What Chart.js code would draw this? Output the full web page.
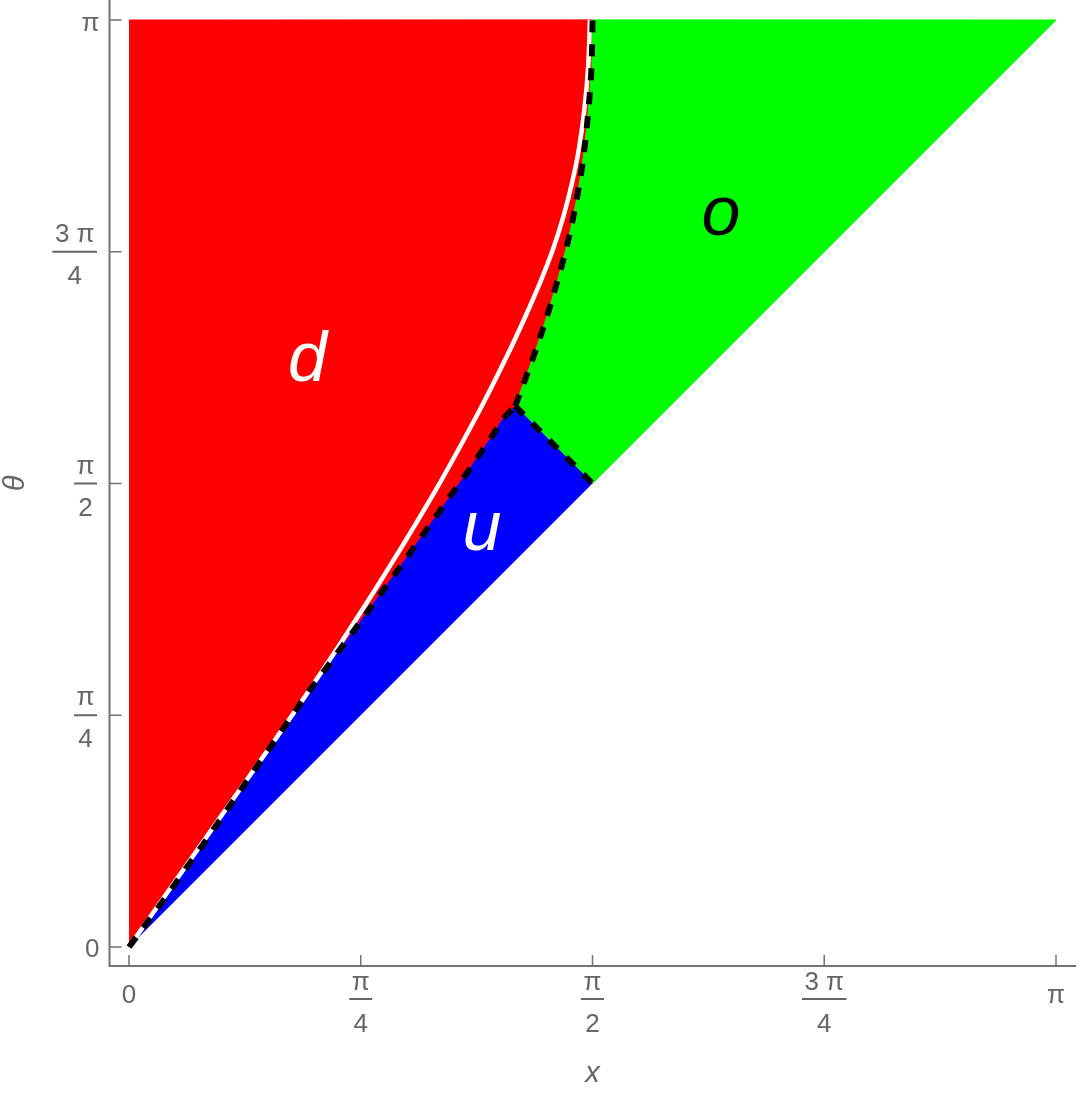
<!DOCTYPE html>
<html><head><meta charset="utf-8">
<script src="https://cdn.jsdelivr.net/npm/chart.js@4.4.1/dist/chart.umd.min.js"></script>
<style>html,body{margin:0;padding:0;background:#fff;}canvas{display:block;}</style>
</head><body>
<canvas id="c" width="1080" height="1093"></canvas>
<script>
const PI = Math.PI;

// ---- axis ticks ----
const tickValues = [0, PI / 4, PI / 2, 3 * PI / 4, PI];
const tickNumerators = ['0', 'π', 'π', '3 π', 'π'];
const tickDenominators = ['', '4', '2', '4', ''];
const axisTitles = ['x', 'θ'];

// ---- boundary d | u (lower dashed curve), origin -> corner ----
const lowerX = [0, 0.111, 0.196, 0.241, 0.613, 0.760, 0.907, 1.048, 1.144, 1.229, 1.269, 1.309];
const lowerY = [0, 0.150, 0.270, 0.333, 0.871, 1.069, 1.272, 1.470, 1.605, 1.729, 1.792, 1.833];

// ---- boundary d | o (upper dashed curve), corner -> top ----
const upperX = [1.309, 1.344, 1.375, 1.398, 1.421, 1.446, 1.467, 1.487, 1.505, 1.521, 1.533, 1.543, 1.553, 1.560, 1.566, 1.569, 1.571];
const upperY = [1.833, 1.928, 2.013, 2.081, 2.152, 2.237, 2.311, 2.389, 2.471, 2.555, 2.627, 2.701, 2.793, 2.871, 2.955, 3.033, 3.142];

// ---- corners of the regions ----
const diagMid = [PI / 2, PI / 2];
const topRight = [PI, PI];
const topLeft = [0, PI];

// ---- white curve inside d ----
const whiteX = [0, 0.299, 0.596, 0.812, 1.020, 1.183, 1.280, 1.343, 1.392, 1.436, 1.472, 1.501, 1.524, 1.543, 1.556, 1.562];
const whiteY = [0, 0.425, 0.848, 1.176, 1.515, 1.809, 2.001, 2.136, 2.249, 2.362, 2.475, 2.588, 2.701, 2.837, 2.983, 3.142];

// ---- region labels (text, x, baseline y) ----
const regionLabelText = ['d', 'u', 'o'];
const regionLabelX = [0.605, 1.196, 2.006];
const regionLabelY = [1.918, 1.345, 2.413];
const regionLabelColor = ['#ffffff', '#ffffff', '#000000'];

// ---- build point lists ----
const toPts = (xs, ys) => xs.map((v, i) => ({ x: v, y: ys[i] }));
const lowerPts = toPts(lowerX, lowerY);
const upperPts = toPts(upperX, upperY);
const whitePts = toPts(whiteX, whiteY);
const cornerPt = lowerPts[lowerPts.length - 1];
const midPt = { x: diagMid[0], y: diagMid[1] };

const redPts = [...lowerPts, ...upperPts.slice(1), { x: topLeft[0], y: topLeft[1] }];
const greenPts = [...upperPts, { x: topRight[0], y: topRight[1] }, midPt];
const bluePts = [...lowerPts, midPt];

const TICK_FONT = '26px "Liberation Sans", Arial, sans-serif';
const AXIS_COLOR = '#737373';
const TEXT_COLOR = '#666666';

const axesPlugin = {
  id: 'mmaAxes',
  afterDatasetsDraw(chart) {
    const { ctx, chartArea: a } = chart;
    const xs = chart.scales.x, ys = chart.scales.y;
    ctx.save();

    // region labels
    ctx.font = 'italic 70px "Liberation Sans", Arial, sans-serif';
    ctx.textAlign = 'center';
    ctx.textBaseline = 'alphabetic';
    regionLabelText.forEach((t, i) => {
      ctx.fillStyle = regionLabelColor[i];
      ctx.fillText(t, xs.getPixelForValue(regionLabelX[i]), ys.getPixelForValue(regionLabelY[i]));
    });

    // axis lines
    const x0 = a.left + 0.5, y0 = a.bottom;
    ctx.strokeStyle = AXIS_COLOR;
    ctx.lineWidth = 2;
    ctx.beginPath();
    ctx.moveTo(x0, a.top);
    ctx.lineTo(x0, y0);
    ctx.lineTo(a.right, y0);
    ctx.stroke();

    ctx.font = TICK_FONT;
    ctx.fillStyle = TEXT_COLOR;

    tickValues.forEach((v, i) => {
      const px = xs.getPixelForValue(v);
      const py = ys.getPixelForValue(v);
      // tick marks (inside)
      ctx.strokeStyle = AXIS_COLOR;
      ctx.lineWidth = 1.5;
      ctx.beginPath();
      ctx.moveTo(px, y0); ctx.lineTo(px, y0 - 11);
      ctx.moveTo(x0, py); ctx.lineTo(x0 + 12, py);
      ctx.stroke();

      const num = tickNumerators[i], den = tickDenominators[i];
      ctx.textBaseline = 'alphabetic';
      if (!den) {
        ctx.textAlign = 'center';
        ctx.fillText(num, px, y0 + 37);
        ctx.textAlign = 'right';
        ctx.fillText(num, x0 - 10, py + 10.5);
      } else {
        const w = Math.max(ctx.measureText(num).width, ctx.measureText(den).width) + 5;
        ctx.lineWidth = 2;
        ctx.strokeStyle = TEXT_COLOR;
        // x fraction
        const barY = y0 + 33;
        ctx.beginPath(); ctx.moveTo(px - w / 2, barY); ctx.lineTo(px + w / 2, barY); ctx.stroke();
        ctx.textAlign = 'center';
        ctx.fillText(num, px, barY - 9);
        ctx.fillText(den, px, barY + 33);
        // y fraction
        const right = x0 - 12.5;
        const cx = right - w / 2;
        ctx.beginPath(); ctx.moveTo(right - w, py); ctx.lineTo(right, py); ctx.stroke();
        ctx.fillText(num, cx, py - 10);
        ctx.fillText(den, cx, py + 32);
      }
    });

    // axis titles
    ctx.font = 'italic 29px "Liberation Sans", Arial, sans-serif';
    ctx.fillStyle = TEXT_COLOR;
    ctx.textAlign = 'center';
    ctx.textBaseline = 'middle';
    ctx.fillText(axisTitles[0], xs.getPixelForValue(PI / 2), 1074);
    ctx.save();
    ctx.translate(16, ys.getPixelForValue(PI / 2));
    ctx.rotate(-Math.PI / 2);
    ctx.fillText(axisTitles[1], 0, 0);
    ctx.restore();

    ctx.restore();
  }
};

const regionDs = (pts, color) => ({
  data: pts, fill: 'shape', backgroundColor: color, borderColor: color,
  borderWidth: 1, pointRadius: 0, pointHoverRadius: 0, tension: 0
});

const dashStyle = { borderColor: '#000', borderWidth: 6, borderDash: [12, 12], borderCapStyle: 'butt',
  fill: false, pointRadius: 0 };

new Chart(document.getElementById('c'), {
  type: 'line',
  data: {
    datasets: [
      Object.assign({ data: upperPts, tension: 0.4 }, dashStyle),
      Object.assign({ data: lowerPts, tension: 0 }, dashStyle),
      Object.assign({ data: [cornerPt, midPt], tension: 0 }, dashStyle),
      { data: whitePts, borderColor: '#ffffff', borderWidth: 4.5, fill: false, pointRadius: 0, tension: 0.4 },
      regionDs(bluePts, '#0000ff'),
      regionDs(greenPts, '#00ff00'),
      regionDs(redPts, '#ff0000')
    ]
  },
  options: {
    responsive: false,
    devicePixelRatio: 1,
    animation: false,
    events: [],
    layout: { padding: { left: 109, right: 4, top: 0, bottom: 127 } },
    plugins: { legend: { display: false }, tooltip: { enabled: false } },
    scales: {
      x: { type: 'linear', min: -0.0678, max: 3.2094, display: false },
      y: { type: 'linear', min: -0.0644, max: 3.2094, display: false }
    }
  },
  plugins: [axesPlugin]
});
</script>
</body></html>
